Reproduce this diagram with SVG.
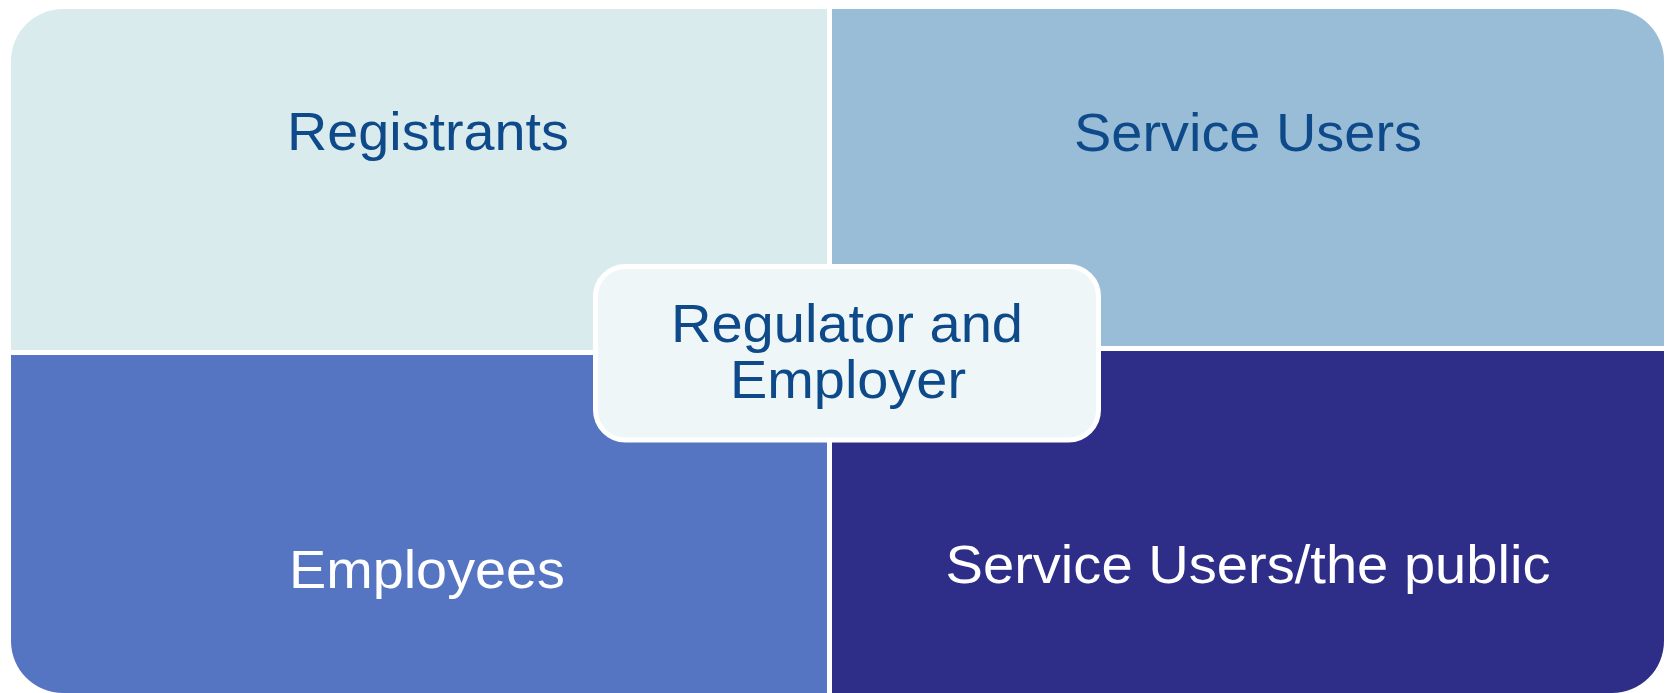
<svg xmlns="http://www.w3.org/2000/svg" width="1667" height="693" viewBox="0 0 1667 693">
  <style>
    .lbl { font-family: "Liberation Sans", Arial, sans-serif; font-size: 53px; text-anchor: middle; }
    .dark { fill: #0E4A8A; }
    .light { fill: #FFFFFF; }
  </style>
  <rect x="0" y="0" width="1667" height="693" fill="#FFFFFF"/>

  <!-- four quadrants of the matrix -->
  <g id="registrants">
    <path d="M11,61 A52,52 0 0 1 63,9 L827,9 L827,350 L11,350 Z" fill="#DAEBEE"/>
    <text class="lbl dark" x="428" y="150" textLength="282" lengthAdjust="spacingAndGlyphs">Registrants</text>
  </g>
  <g id="service-users">
    <path d="M832,9 L1612,9 A52,52 0 0 1 1664,61 L1664,346 L832,346 Z" fill="#9ABDD7"/>
    <text class="lbl dark" x="1248" y="151" textLength="348" lengthAdjust="spacingAndGlyphs">Service Users</text>
  </g>
  <g id="employees">
    <path d="M11,355 L827,355 L827,693 L63,693 A52,52 0 0 1 11,641 Z" fill="#5574C1"/>
    <text class="lbl light" x="427" y="588" textLength="276" lengthAdjust="spacingAndGlyphs">Employees</text>
  </g>
  <g id="service-users-public">
    <path d="M832,351 L1664,351 L1664,641 A52,52 0 0 1 1612,693 L832,693 Z" fill="#2E2E88"/>
    <text class="lbl light" x="1248" y="583" textLength="605" lengthAdjust="spacingAndGlyphs">Service Users/the public</text>
  </g>

  <!-- central overlay box -->
  <g id="regulator-employer">
    <rect x="595.5" y="266.5" width="503" height="173.5" rx="30" ry="30" fill="#EEF6F8" stroke="#FFFFFF" stroke-width="5"/>
    <text class="lbl dark" x="847" y="342" textLength="352" lengthAdjust="spacingAndGlyphs">Regulator and</text>
    <text class="lbl dark" x="848" y="398" textLength="236" lengthAdjust="spacingAndGlyphs">Employer</text>
  </g>

  <g id="connectors"></g>
</svg>
